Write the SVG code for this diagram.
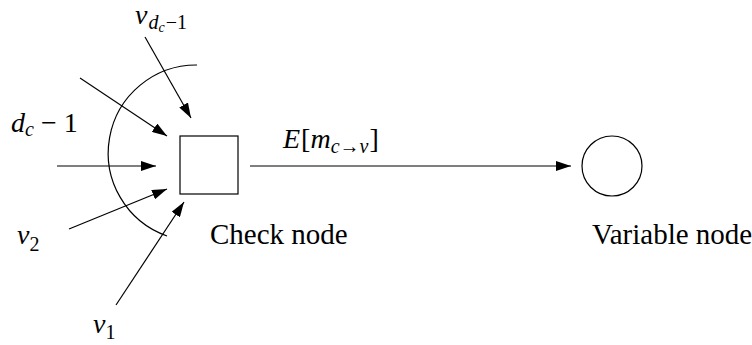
<svg xmlns="http://www.w3.org/2000/svg" width="752" height="345" viewBox="0 0 752 345">
<style>
.ln{stroke:#000;stroke-width:1.2;fill:none}
.m{font-family:"Liberation Serif",serif;font-size:28px;fill:#000}
.i{font-style:italic}
.s{font-size:20px}
.t{font-family:"Liberation Serif",serif;font-size:29px;fill:#000}
</style>
<defs>
<marker id="ah" markerUnits="userSpaceOnUse" markerWidth="16" markerHeight="10" refX="15" refY="5" orient="auto">
<path d="M0,0 L15,5 L0,10 Z" fill="#000"/>
</marker>
</defs>
<rect width="752" height="345" fill="#fff"/>
<g id="connectors">
<line class="ln" x1="145" y1="37" x2="191" y2="118" marker-end="url(#ah)"/>
<line class="ln" x1="80" y1="78" x2="167" y2="136" marker-end="url(#ah)"/>
<line class="ln" x1="57" y1="166" x2="156" y2="166" marker-end="url(#ah)"/>
<line class="ln" x1="69" y1="229" x2="167" y2="189" marker-end="url(#ah)"/>
<line class="ln" x1="116" y1="305" x2="184" y2="202" marker-end="url(#ah)"/>
<line class="ln" x1="250" y1="166" x2="571" y2="166" marker-end="url(#ah)"/>
<path class="ln" d="M197,65 A88,88 0 0,0 167,236"/>
</g>
<g id="check-node">
<rect class="ln" x="180" y="136" width="58" height="58"/>
<text class="t" x="210" y="244">Check node</text>
</g>
<g id="variable-node">
<circle class="ln" cx="612" cy="166" r="30"/>
<text class="t" x="592" y="244">Variable node</text>
</g>
<g id="labels">
<text class="m" x="135" y="24" font-size="26"><tspan class="i">v</tspan><tspan class="i s" dx="1" dy="5">d</tspan><tspan class="i" font-size="14" dy="3">c</tspan><tspan class="s" dx="1" dy="-3">−1</tspan></text>
<text class="m" x="11" y="132"><tspan class="i">d</tspan><tspan class="i s" dy="4">c</tspan><tspan dx="7" dy="-4">−</tspan><tspan dx="7">1</tspan></text>
<text class="m" x="17" y="244"><tspan class="i">v</tspan><tspan class="s" dy="7">2</tspan></text>
<text class="m" x="93" y="333"><tspan class="i">v</tspan><tspan class="s" dy="6">1</tspan></text>
<text class="m" x="283" y="148"><tspan class="i">E</tspan><tspan dx="1">[</tspan><tspan class="i">m</tspan><tspan class="i s" dy="5">c</tspan><tspan class="s">→</tspan><tspan class="i s">v</tspan><tspan dx="1" dy="-5">]</tspan></text>
</g>
</svg>
